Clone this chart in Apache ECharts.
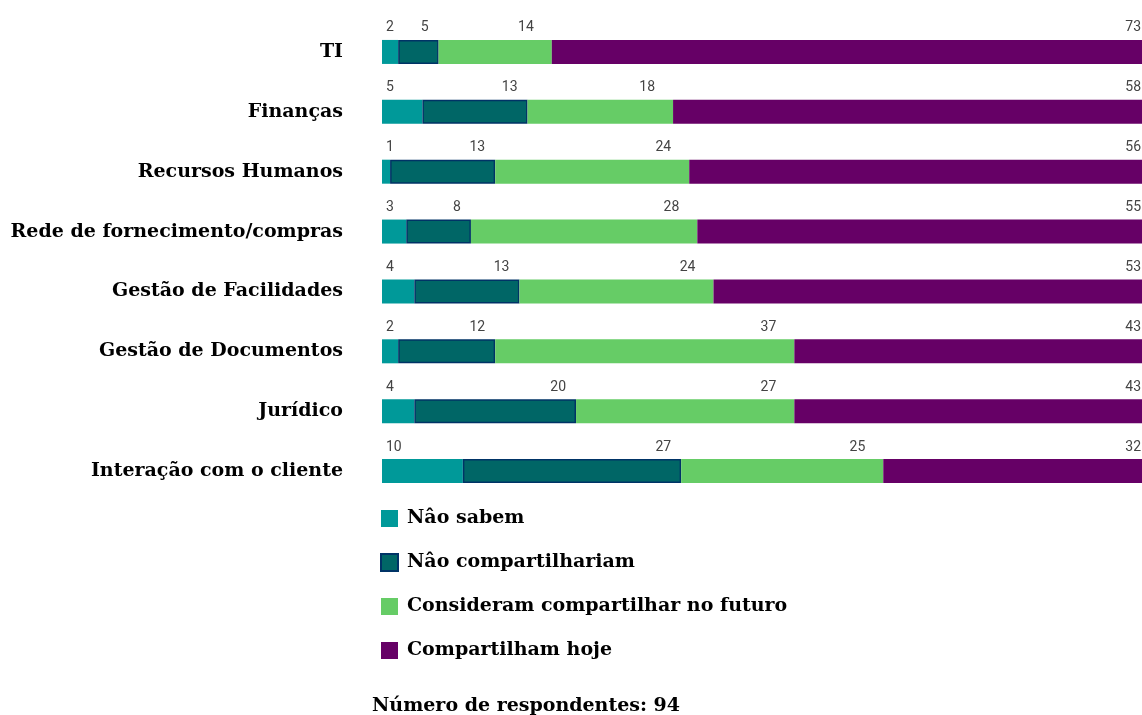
<!DOCTYPE html>
<html>
<head>
<meta charset="utf-8">
<script src="https://cdn.jsdelivr.net/npm/echarts@6/dist/echarts.min.js"></script>
<style>
html,body{margin:0;padding:0;background:#fff;}
#chart{width:1142px;height:715px;}
</style>
</head>
<body>
<div id="chart"></div>
<script>
const categories = ["TI","Finanças","Recursos Humanos","Rede de fornecimento/compras","Gestão de Facilidades","Gestão de Documentos","Jurídico","Interação com o cliente"];
const seriesNames = ["Nâo sabem","Nâo compartilhariam","Consideram compartilhar no futuro","Compartilham hoje"];
const naoSabem = [2,5,1,3,4,2,4,10];
const naoCompartilhariam = [5,13,13,8,13,12,20,27];
const consideram = [14,18,24,28,24,37,27,25];
const compartilhamHoje = [73,58,56,55,53,43,43,32];
const footerText = "Número de respondentes: 94";
const totalRespondentes = 94;

const serif = '"DejaVu Serif", serif';
const labelBase = {show:true, color:'#444', fontFamily:'Roboto, sans-serif', fontSize:14, verticalAlign:'bottom'};

const chart = echarts.init(document.getElementById('chart'), null, {renderer:'canvas'});
chart.setOption({
  backgroundColor:'#fff',
  animation:false,
  grid:{left:382, right:0, top:22, height:479},
  xAxis:{type:'value', min:0, max:totalRespondentes, show:false},
  yAxis:{type:'category', data:categories, inverse:true,
    axisLine:{show:false}, axisTick:{show:false}, splitLine:{show:false},
    axisLabel:{margin:39, color:'#000', fontFamily:serif, fontWeight:'bold', fontSize:19}},
  legend:{orient:'vertical', left:380, top:509, padding:0, itemWidth:17, itemHeight:17, itemGap:25, icon:'rect',
    textStyle:{fontFamily:serif, fontWeight:'bold', fontSize:19, color:'#000', padding:[0,0,0,4]},
    data:seriesNames},
  graphic:[{type:'text', left:372, top:697, style:{text:footerText, font:'bold 19px "DejaVu Serif", serif', fill:'#000'}}],
  series:[
    {name:seriesNames[0], type:'bar', stack:'s', barWidth:24, data:naoSabem,
      itemStyle:{color:'#009999'},
      label:Object.assign({}, labelBase, {position:[4,-5], align:'left'})},
    {name:seriesNames[1], type:'bar', stack:'s', barWidth:24, data:naoCompartilhariam,
      itemStyle:{color:'#006666', borderColor:'#003366', borderWidth:1.5},
      label:Object.assign({}, labelBase, {position:['100%',-5], align:'right', offset:[-10,0]})},
    {name:seriesNames[2], type:'bar', stack:'s', barWidth:24, data:consideram,
      itemStyle:{color:'#66cc66'},
      label:Object.assign({}, labelBase, {position:['100%',-5], align:'right', offset:[-18,0]})},
    {name:seriesNames[3], type:'bar', stack:'s', barWidth:24, data:compartilhamHoje,
      itemStyle:{color:'#660066'},
      label:Object.assign({}, labelBase, {position:['100%',-5], align:'right', offset:[-1,0]})}
  ]
});
</script>
</body>
</html>
